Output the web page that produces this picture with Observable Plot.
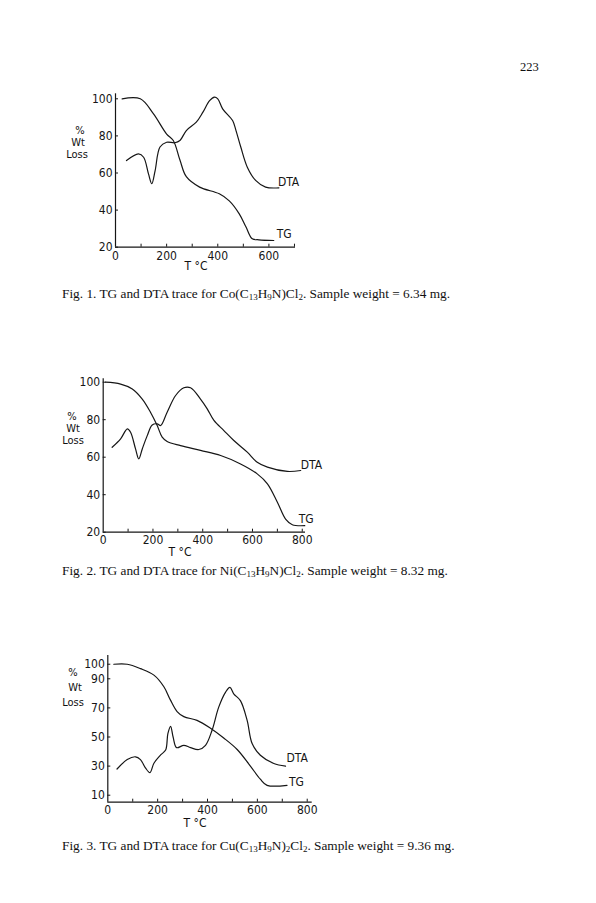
<!DOCTYPE html>
<html>
<head>
<meta charset="utf-8">
<script src="https://cdn.jsdelivr.net/npm/d3@7"></script>
<script src="https://cdn.jsdelivr.net/npm/@observablehq/plot@0.6"></script>
<style>
  html, body { margin: 0; padding: 0; background: #fff; }
  #page { position: relative; width: 596px; height: 903px; background: #fff; overflow: hidden; }
  .plot { position: absolute; left: 0; }
  .plot svg { overflow: visible; }
  .lab { position: absolute; transform: translate(-50%, -50%); font-family: "DejaVu Sans Condensed", sans-serif; font-size: 11px; color: #111; white-space: nowrap; line-height: 11px; }
  .cap { position: absolute; left: 62px; font-family: "Liberation Serif", serif; font-size: 13.3px; color: #111; white-space: nowrap; line-height: 15px; }
  .cap sub { font-size: 9px; vertical-align: -2px; line-height: 0; }
  .pnum { position: absolute; left: 520px; top: 60px; font-family: "Liberation Serif", serif; font-size: 12.5px; color: #111; }
</style>
</head>
<body>
<div id="page">
  <div class="pnum">223</div>
</div>
<script>
// ---------- Data (T in °C, value read on the "% Wt Loss" axis) ----------
// Fig. 1  Co(C13H9N)Cl2
const tg1 = [[26,100],[97,100],[148,92],[200,81],[226,77.5],[252,67],[277,58],[329,52.4],[406,48.8],[445,45],[484,38],[510,31],[535,24.5],[561,24],[619,23.6]];
const dta1 = [[43,66.7],[90,70.3],[110,68.5],[129,59.5],[142,54.2],[155,61.3],[174,74],[200,76.6],[232,76.3],[252,77.5],[277,82.9],[316,87.4],[342,92.8],[368,99],[387,100.9],[400,100],[419,94.6],[458,88.3],[471,83],[490,74],[516,63],[548,56],[587,52.4],[639,52]];
// Fig. 2  Ni(C13H9N)Cl2
const tg2 = [[9,100],[70,99],[117,96.4],[157,91],[190,84],[217,76.9],[237,70.7],[257,68.4],[311,66.2],[391,63.6],[472,60.9],[552,56.4],[619,51.1],[660,45.8],[700,36],[733,27],[760,24],[810,23.5]];
const dta2 = [[36,65.3],[70,69.8],[97,75.1],[110,73.3],[130,64.4],[143,59.1],[157,64.4],[177,71.5],[197,77.2],[217,77.8],[231,76.9],[257,84],[291,92.9],[324,97],[351,97],[391,91],[418,85.8],[445,79.6],[485,74.2],[525,68.9],[579,62.7],[619,57.3],[660,54.7],[740,52.4],[794,52.9]];
// Fig. 3  Cu(C13H9N)2Cl2
const tg3 = [[24,100],[78,100],[131,97],[185,92.5],[225,84.5],[251,75.5],[278,67.5],[305,64],[358,61.4],[412,56],[465,49.3],[519,41.4],[572,30],[612,21],[639,16.8],[719,16.8]];
const dta3 = [[37,28],[78,34.5],[111,36.4],[131,34.5],[151,28.8],[169,25.5],[185,32],[212,37.7],[232,41],[241,52.3],[252,57.3],[262,50],[276,42.7],[305,44.3],[332,42.7],[365,41.4],[392,44.3],[418,54.5],[445,70.5],[472,80.7],[490,84.1],[506,79.5],[532,75],[559,61.4],[579,45.5],[612,37.5],[666,31.8],[713,30]];

// Tick labels
const xTicks1 = [0, 200, 400, 600];
const xTicks23 = [0, 200, 400, 600, 800];
const xMinor1 = [100, 300, 500, 700];
const xMinor23 = [100, 300, 500, 700];
const yTicks12 = [20, 40, 60, 80, 100];
const yTicks3 = [10, 30, 50, 70, 90, 100];

const captions = [
  'Fig. 1. TG and DTA trace for Co(C<sub>13</sub>H<sub>9</sub>N)Cl<sub>2</sub>. Sample weight = 6.34 mg.',
  'Fig. 2. TG and DTA trace for Ni(C<sub>13</sub>H<sub>9</sub>N)Cl<sub>2</sub>. Sample weight = 8.32 mg.',
  'Fig. 3. TG and DTA trace for Cu(C<sub>13</sub>H<sub>9</sub>N)<sub>2</sub>Cl<sub>2</sub>. Sample weight = 9.36 mg.'
];

// ---------- Layout (page pixels) ----------
const charts = [
  { tg: tg1, dta: dta1, xDomain: [0, 704], yDomain: [20, 102.7], xTicks: xTicks1, xMinor: xMinor1, yTicks: yTicks12,
    frame: { left: 115, right: 295, top: 93.3, bottom: 246.7 },
    xPad: 4, yLab: [[80,130],[78,142],[77,154]], tLab: [196, 266], capTop: 286,
    dtaOff: [-1, -6], tgOff: [3, -6] },
  { tg: tg2, dta: dta2, xDomain: [0, 813], yDomain: [20, 101.8], xTicks: xTicks23, xMinor: xMinor23, yTicks: yTicks12,
    frame: { left: 102.7, right: 305, top: 378.3, bottom: 531.7 },
    xPad: 3, yLab: [[72,416],[73,428],[73,440]], tLab: [180, 552], capTop: 563,
    dtaOff: [0, -5], tgOff: [-6, -6] },
  { tg: tg3, dta: dta3, xDomain: [0, 820], yDomain: [5.2, 106], xTicks: xTicks23, xMinor: xMinor23, yTicks: yTicks3,
    frame: { left: 107.3, right: 311.7, top: 655, bottom: 801.7 },
    xPad: 3, yLab: [[73,672],[75,687],[73,702]], tLab: [195, 823], capTop: 838,
    dtaOff: [1, -8], tgOff: [2, -3] }
];

const page = document.getElementById("page");
const FONT = '"DejaVu Sans Condensed", sans-serif';
const INK = "#161616";

charts.forEach((c) => {
  const f = c.frame;
  const svgTop = Math.round(f.top - 30);
  const svgHeight = Math.round(f.bottom - svgTop + 40);
  const W = 596;
  const yPerPx = (c.yDomain[1] - c.yDomain[0]) / (f.bottom - f.top);
  const xPerPx = (c.xDomain[1] - c.xDomain[0]) / (f.right - f.left);
  const y0 = c.yDomain[0];
  const allX = c.xTicks.concat(c.xMinor);

  const plot = Plot.plot({
    width: W,
    height: svgHeight,
    marginLeft: f.left,
    marginRight: W - f.right,
    marginTop: f.top - svgTop,
    marginBottom: svgTop + svgHeight - f.bottom,
    style: { fontFamily: FONT, fontSize: "12px", color: INK, background: "transparent", overflow: "visible" },
    x: { domain: c.xDomain },
    y: { domain: c.yDomain },
    marks: [
      Plot.ruleY([y0], { stroke: INK, strokeWidth: 1.2 }),
      Plot.ruleX([c.xDomain[0]], { stroke: INK, strokeWidth: 1.2 }),
      Plot.ruleX(allX.filter(v => v > 0), { x: d => d, y1: y0, y2: y0 + 3 * yPerPx, stroke: INK, strokeWidth: 1 }),
      Plot.ruleY(c.yTicks, { y: d => d, x1: 0, x2: 3 * xPerPx, stroke: INK, strokeWidth: 1 }),
      Plot.axisX({ ticks: c.xTicks, tickSize: 0, tickPadding: c.xPad, label: null, fontSize: 12, fill: INK }),
      Plot.axisY({ ticks: c.yTicks, tickSize: 0, tickPadding: 3, label: null, fontSize: 12, fill: INK }),
      Plot.line(c.tg, { x: d => d[0], y: d => d[1], curve: "catmull-rom", stroke: INK, strokeWidth: 1.2 }),
      Plot.line(c.dta, { x: d => d[0], y: d => d[1], curve: "catmull-rom", stroke: INK, strokeWidth: 1.2 }),
      Plot.text([c.dta[c.dta.length - 1]], { x: d => d[0], y: d => d[1], text: () => "DTA", textAnchor: "start", dx: c.dtaOff[0], dy: c.dtaOff[1], fontSize: 12, fill: INK }),
      Plot.text([c.tg[c.tg.length - 1]], { x: d => d[0], y: d => d[1], text: () => "TG", textAnchor: "start", dx: c.tgOff[0], dy: c.tgOff[1], fontSize: 12, fill: INK })
    ]
  });
  const holder = document.createElement("div");
  holder.className = "plot";
  holder.style.top = svgTop + "px";
  holder.appendChild(plot);
  page.appendChild(holder);

  ["%", "Wt", "Loss"].forEach((s, i) => {
    const d = document.createElement("div");
    d.className = "lab";
    d.textContent = s;
    d.style.left = c.yLab[i][0] + "px";
    d.style.top = c.yLab[i][1] + "px";
    page.appendChild(d);
  });
  const t = document.createElement("div");
  t.className = "lab";
  t.style.fontSize = "12px";
  t.textContent = "T °C";
  t.style.left = c.tLab[0] + "px";
  t.style.top = c.tLab[1] + "px";
  page.appendChild(t);
});

captions.forEach((html, i) => {
  const d = document.createElement("div");
  d.className = "cap";
  d.innerHTML = html;
  d.style.top = charts[i].capTop + "px";
  page.appendChild(d);
});
</script>
</body>
</html>
